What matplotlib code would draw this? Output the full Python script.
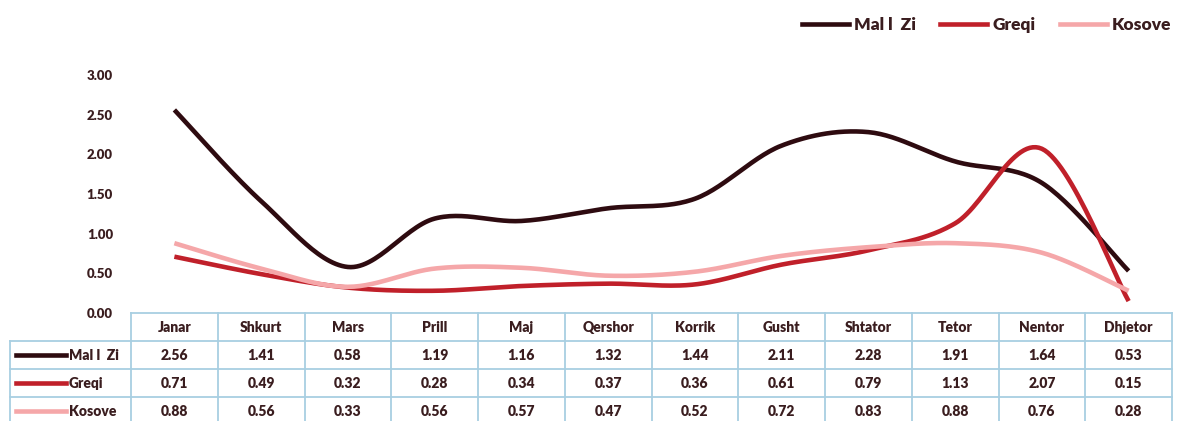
import numpy as np
import matplotlib.pyplot as plt
from matplotlib.lines import Line2D

months = ['Janar', 'Shkurt', 'Mars', 'Prill', 'Maj', 'Qershor', 'Korrik',
          'Gusht', 'Shtator', 'Tetor', 'Nentor', 'Dhjetor']
mali_zi = [2.56, 1.41, 0.58, 1.19, 1.16, 1.32, 1.44, 2.11, 2.28, 1.91, 1.64, 0.53]
greqi = [0.71, 0.49, 0.32, 0.28, 0.34, 0.37, 0.36, 0.61, 0.79, 1.13, 2.07, 0.15]
kosove = [0.88, 0.56, 0.33, 0.56, 0.57, 0.47, 0.52, 0.72, 0.83, 0.88, 0.76, 0.28]
y_ticks = [0.0, 0.5, 1.0, 1.5, 2.0, 2.5, 3.0]

series = [('Mal I  Zi', mali_zi, '#2e0b10'),
          ('Greqi', greqi, '#c0202a'),
          ('Kosove', kosove, '#f5a7a9')]
legend_names = ['Mal l  Zi', 'Greqi', 'Kosove']

TXT = '#3a1d1f'
GRID = '#a8cfe2'
FONT = ['Lato', 'DejaVu Sans']


def smooth(x, y, n=30):
    # catmull-rom style bezier, similar to excel "smoothed line"
    x = np.asarray(x, float)
    y = np.asarray(y, float)
    P = np.column_stack([x, y])
    P = np.vstack([P[0], P, P[-1]])
    out = []
    t = np.linspace(0, 1, n)[:, None]
    for i in range(1, len(P) - 2):
        p0, p1, p2, p3 = P[i - 1], P[i], P[i + 1], P[i + 2]
        c1 = p1 + (p2 - p0) / 6
        c2 = p2 - (p3 - p1) / 6
        b = ((1 - t) ** 3) * p1 + 3 * ((1 - t) ** 2) * t * c1 + 3 * (1 - t) * t ** 2 * c2 + t ** 3 * p2
        out.append(b)
    out = np.vstack(out)
    return out[:, 0], out[:, 1]


W, H = 1181, 421
fig = plt.figure(figsize=(W / 100, H / 100), dpi=100)

x_left, x_right = 131, 1172
y_top, y_bot = 75, 313
ax = fig.add_axes([x_left / W, 1 - y_bot / H, (x_right - x_left) / W, (y_bot - y_top) / H])

xs = np.arange(len(months))
for name, vals, col in series:
    sx, sy = smooth(xs, vals)
    ax.plot(sx, sy, color=col, lw=3.3, solid_capstyle='butt', clip_on=False)

ax.set_xlim(-0.5, len(months) - 0.5)
ax.set_ylim(0, 3)
ax.set_yticks(y_ticks)
ax.set_yticklabels([f'{v:.2f}' for v in y_ticks], fontsize=9.5, fontweight='heavy',
                   color=TXT, family=FONT)
ax.tick_params(axis='y', length=0, pad=13)
ax.set_xticks([])
for s in ax.spines.values():
    s.set_visible(False)

# data table below the axis
col_w = (x_right - x_left) / len(months)
row_h = 28
label_left = 10


def fx(px):
    return px / W


def fy(py):
    return 1 - py / H


lw_grid = 1.3
# header row
fig.add_artist(Line2D([fx(x_left), fx(x_right)], [fy(y_bot), fy(y_bot)], color=GRID, lw=lw_grid))
for r in range(1, 4):
    yy = y_bot + r * row_h
    fig.add_artist(Line2D([fx(label_left), fx(x_right)], [fy(yy), fy(yy)], color=GRID, lw=lw_grid))
for c in range(len(months) + 1):
    xx = x_left + c * col_w
    fig.add_artist(Line2D([fx(xx), fx(xx)], [fy(y_bot), fy(H + 5)], color=GRID, lw=lw_grid))
fig.add_artist(Line2D([fx(label_left), fx(label_left)], [fy(y_bot + row_h), fy(H + 5)], color=GRID, lw=lw_grid))

for c, m in enumerate(months):
    fig.text(fx(x_left + (c + 0.5) * col_w), fy(y_bot + row_h / 2), m, ha='center', va='center',
             fontsize=10, fontweight='heavy', color=TXT, family=FONT)

for r, (name, vals, col) in enumerate(series):
    yc = y_bot + (r + 1.5) * row_h
    fig.add_artist(Line2D([fx(16), fx(66)], [fy(yc), fy(yc)], color=col, lw=3.3))
    fig.text(fx(69), fy(yc), legend_names[r], ha='left', va='center', fontsize=10,
             fontweight='heavy', color=TXT, family=FONT)
    for c, v in enumerate(vals):
        fig.text(fx(x_left + (c + 0.5) * col_w), fy(yc), f'{v:.2f}', ha='center', va='center',
                 fontsize=10, fontweight='heavy', color=TXT, family=FONT)

# legend at the top right
handles = [Line2D([], [], color=col, lw=3.3) for _, _, col in series]
fig.legend(handles, legend_names, loc='center right', bbox_to_anchor=(fx(1187), fy(25)),
           ncol=3, frameon=False, handlelength=2.7, handletextpad=0.3, columnspacing=1.4,
           prop={'family': FONT, 'weight': 'heavy', 'size': 12.5}, labelcolor=TXT)

fig.savefig('out.png', dpi=100, facecolor='white')
